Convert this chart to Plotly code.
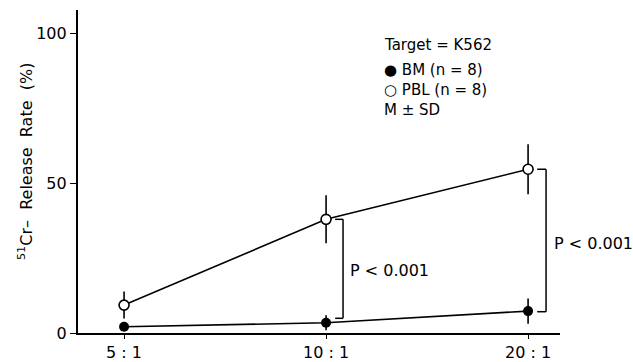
import plotly.graph_objects as go

# ---- data ----
ratios = ["5 : 1", "10 : 1", "20 : 1"]
pbl_mean = [9.3, 37.9, 54.6]
pbl_sd = [4.5, 8.0, 8.3]
bm_mean = [2.1, 3.4, 7.3]
bm_sd = [1.0, 2.5, 4.2]
y_ticks = [0, 50, 100]
legend_lines = ["Target = K562", "\u25cf BM (n = 8)", "\u25cb PBL (n = 8)", "M \u00b1 SD"]
p_labels = ["P < 0.001", "P < 0.001"]

FONT = "DejaVu Sans"
xs = list(range(len(ratios)))

W, H = 633, 362
L, R_EDGE, T, B_EDGE = 78, 560, 10, 333
PW = R_EDGE - L

fig = go.Figure()
fig.add_trace(go.Scatter(
    x=xs, y=bm_mean, mode="lines+markers",
    line=dict(color="black", width=1.6),
    marker=dict(symbol="circle", size=10, color="black"),
    error_y=dict(type="data", array=bm_sd, visible=True, color="black", thickness=1.6, width=0),
    showlegend=False, cliponaxis=False))
fig.add_trace(go.Scatter(
    x=xs, y=pbl_mean, mode="lines+markers",
    line=dict(color="black", width=1.6),
    marker=dict(symbol="circle", size=10, color="white", line=dict(color="black", width=1.6)),
    error_y=dict(type="data", array=pbl_sd, visible=True, color="black", thickness=1.6, width=0),
    showlegend=False, cliponaxis=False))

# significance brackets at 10:1 and 20:1
shapes = []
annotations = []
for k, (i, dx0, dx1, tx, ty, boff) in enumerate([(1, 0.045, 0.084, 0.11, 21, 1.5),
                                                  (2, 0.045, 0.089, 0.117, 30, -0.2)]):
    top, bot = pbl_mean[i], bm_mean[i] + boff
    line = dict(color="black", width=1.5)
    shapes.append(dict(type="line", xref="x", yref="y", x0=i + dx0, x1=i + dx1, y0=top, y1=top, line=line))
    shapes.append(dict(type="line", xref="x", yref="y", x0=i + dx1, x1=i + dx1, y0=top, y1=bot, line=line))
    shapes.append(dict(type="line", xref="x", yref="y", x0=i + dx0, x1=i + dx1, y0=bot, y1=bot, line=line))
    annotations.append(dict(x=i + tx, y=ty, xref="x", yref="y", text=p_labels[k],
                            showarrow=False, xanchor="left", yanchor="middle",
                            font=dict(family=FONT, size=16, color="black")))

# legend-like text block
for txt, yv in zip(legend_lines, [96, 87.7, 81, 74.3]):
    annotations.append(dict(x=(382 - L) / PW, y=yv, xref="paper", yref="y", text=txt, showarrow=False,
                            xanchor="left", yanchor="middle",
                            font=dict(family=FONT, size=15, color="black")))

# y-axis title
annotations.append(dict(x=(25 - L) / PW, y=(B_EDGE - 162) / (B_EDGE - T), xref="paper", yref="paper",
                        text="<sup>51</sup>Cr\u2013  Release  Rate  (%)", textangle=-90,
                        showarrow=False, xanchor="center", yanchor="middle",
                        font=dict(family=FONT, size=16, color="black")))

fig.update_layout(
    width=W, height=H,
    margin=dict(l=L, r=W - R_EDGE, t=T, b=H - B_EDGE, autoexpand=False),
    paper_bgcolor="white", plot_bgcolor="white",
    shapes=shapes, annotations=annotations,
    font=dict(family=FONT, color="black"),
    xaxis=dict(range=[-0.228, 2.158], tickvals=xs, ticktext=ratios,
               showline=True, linecolor="black", linewidth=2.2,
               ticks="outside", ticklen=4, tickcolor="black", tickwidth=1.2,
               showgrid=False, zeroline=False, tickfont=dict(family=FONT, size=16)),
    yaxis=dict(range=[0, 107.7], tickvals=y_ticks, ticktext=[str(v) for v in y_ticks],
               showline=True, linecolor="black", linewidth=2.2,
               ticks="outside", ticklen=6, tickcolor="black", tickwidth=1.2,
               showgrid=False, zeroline=False, tickfont=dict(family=FONT, size=16)),
)
fig.write_html("out.html", config={"displayModeBar": False},
               post_script="document.body.style.margin='0';document.body.style.overflow='hidden';")
